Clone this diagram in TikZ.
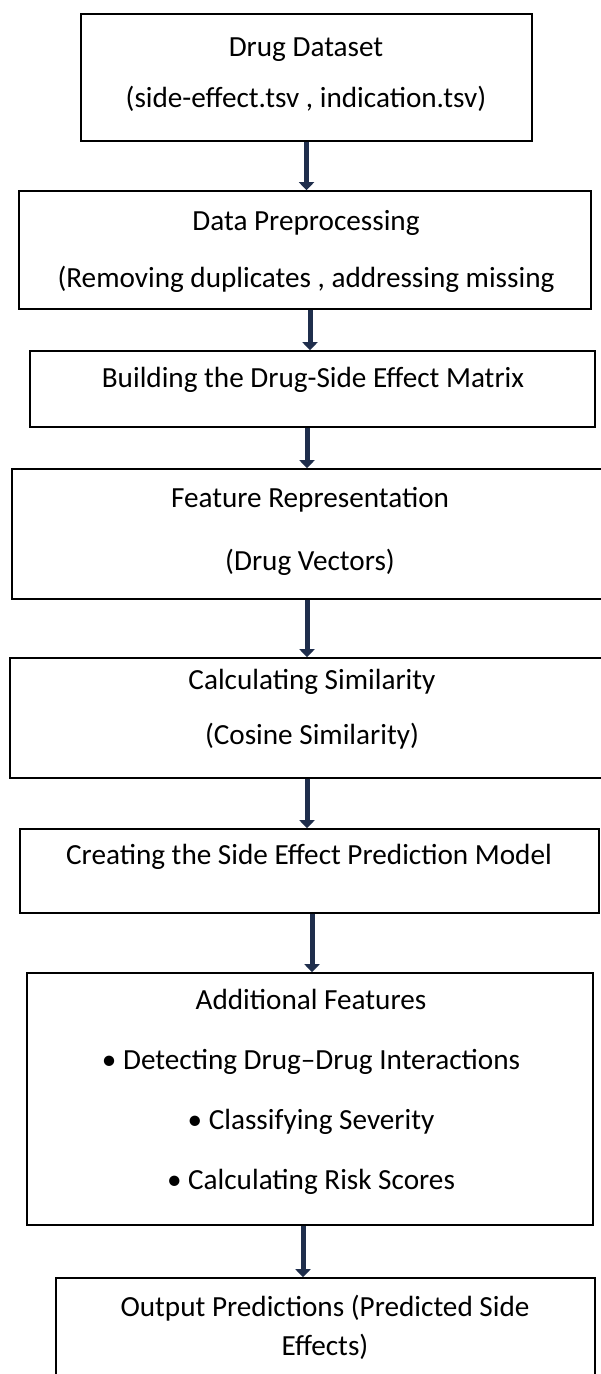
\documentclass[tikz,border=0pt]{standalone}
\usepackage{fontspec}
\setmainfont{Carlito}
\usetikzlibrary{fit}
\usetikzlibrary{arrows.meta}
\definecolor{darknavy}{HTML}{1F2E4C}
\tikzset{
  % process boxes (drawn round their corner points)
  stage/.style={draw=black, line width=0.8pt, inner sep=0pt},
  % text lines inside the boxes
  lbl/.style={align=center, inner sep=0pt, font=\fontsize{14.6}{17.5}\selectfont},
  % thick arrows between the stages
  flow/.style={darknavy, line width=2.5pt, -{Triangle[width=7.5pt,length=4pt]}},
}
\begin{document}
\begin{tikzpicture}[x=0.5pt, y=-0.5pt]
        \useasboundingbox (0,0) rectangle (600,1374);

        \node[stage, fit={(81,14) (532,141)}] (1) {};
        \node[stage, fit={(19,191) (591,309)}] (2) {};
        \node[stage, fit={(30,351) (595,427)}] (3) {};
        \node[stage, fit={(12,469) (608,599)}] (4) {};
        \node[stage, fit={(10,658) (610,778)}] (5) {};
        \node[stage, fit={(20,829) (599,913)}] (6) {};
        \node[stage, fit={(27,973) (593,1225)}] (7) {};
        \node[stage, fit={(56,1278) (595,1390)}] (8) {};

        \node[lbl] (t1) at (306,74.5) {Drug Dataset\\[8pt](side-effect.tsv , indication.tsv)};
        \node[lbl] (t2) at (306,251.5) {Data Preprocessing\\[11pt](Removing duplicates , addressing missing};
        \node[lbl] (t3) at (313,380) {Building the Drug-Side Effect Matrix};
        \node[lbl] (t4) at (310,531.5) {Feature Representation\\[14pt](Drug Vectors)};
        \node[lbl] (t5) at (312,709.5) {Calculating Similarity\\[10pt](Cosine Similarity)};
        \node[lbl] (t6) at (309,857) {Creating the Side Effect Prediction Model};
        \node[lbl] (t7) at (311,1092) {Additional Features\\[12.5pt]• Detecting Drug–Drug Interactions\\[12.5pt]• Classifying Severity\\[12.5pt]• Calculating Risk Scores};
        \node[lbl] (t8) at (325,1327.5) {Output Predictions (Predicted Side\\[2pt]Effects)};

        \draw [flow] (1.south) -- (1.south |- 2.north);
        \draw [flow] ([xshift=2.5pt]2.south) -- ([xshift=2.5pt]2.south |- 3.north);
        \draw [flow] ([xshift=-2.75pt]3.south) -- ([xshift=-2.75pt]3.south |- 4.north);
        \draw [flow] ([xshift=-1.5pt]4.south) -- ([xshift=-1.5pt]4.south |- 5.north);
        \draw [flow] ([xshift=-1.5pt]5.south) -- ([xshift=-1.5pt]5.south |- 6.north);
        \draw [flow] ([xshift=1.25pt]6.south) -- ([xshift=1.25pt]6.south |- 7.north);
        \draw [flow] ([xshift=-3.5pt]7.south) -- ([xshift=-3.5pt]7.south |- 8.north);
      \end{tikzpicture}
\end{document}
